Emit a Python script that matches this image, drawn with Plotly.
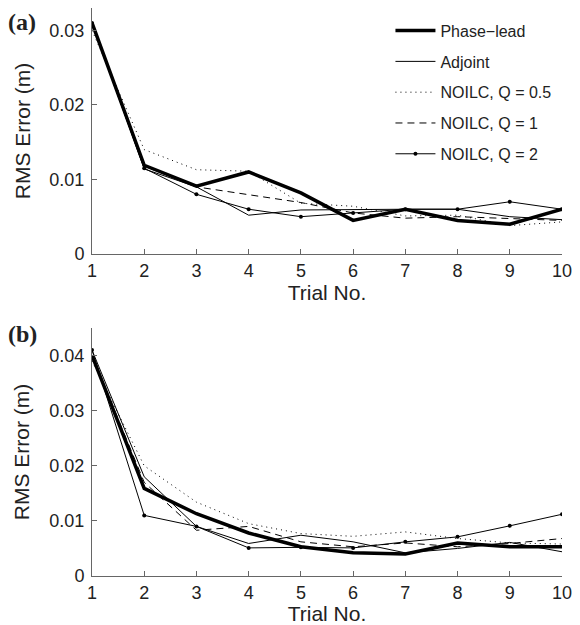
import plotly.graph_objects as go

trials = [1, 2, 3, 4, 5, 6, 7, 8, 9, 10]

# Panel (a)
a_phase_lead = [0.031, 0.0119, 0.0091, 0.0110, 0.0082, 0.0045, 0.0060, 0.0045, 0.0040, 0.0060]
a_adjoint    = [0.031, 0.0114, 0.0090, 0.0052, 0.0059, 0.0060, 0.0060, 0.0060, 0.0050, 0.0046]
a_q05        = [0.030, 0.0140, 0.0113, 0.0111, 0.0068, 0.0064, 0.0051, 0.0052, 0.0038, 0.0043]
a_q1         = [0.031, 0.0118, 0.0090, 0.0080, 0.0069, 0.0055, 0.0048, 0.0050, 0.0047, 0.0045]
a_q2         = [0.031, 0.0115, 0.0080, 0.0060, 0.0050, 0.0055, 0.0060, 0.0060, 0.0070, 0.0060]

# Panel (b)
b_phase_lead = [0.040, 0.0159, 0.0113, 0.0078, 0.0053, 0.0042, 0.0040, 0.0060, 0.0053, 0.0053]
b_adjoint    = [0.041, 0.0180, 0.0090, 0.0059, 0.0074, 0.0062, 0.0042, 0.0050, 0.0061, 0.0044]
b_q05        = [0.039, 0.0200, 0.0134, 0.0095, 0.0077, 0.0072, 0.0080, 0.0068, 0.0060, 0.0058]
b_q1         = [0.040, 0.0170, 0.0083, 0.0090, 0.0062, 0.0053, 0.0060, 0.0053, 0.0059, 0.0068]
b_q2         = [0.041, 0.0110, 0.0090, 0.0051, 0.0052, 0.0051, 0.0062, 0.0071, 0.0091, 0.0112]

names = ["Phase\u2212lead", "Adjoint", "NOILC, Q = 0.5", "NOILC, Q = 1", "NOILC, Q = 2"]
styles = [
    dict(width=3.5, dash="solid"),
    dict(width=1, dash="solid"),
    dict(width=1, dash="1px,4px"),
    dict(width=1, dash="7px,5px"),
    dict(width=1, dash="solid"),
]

a_y_ticks = [0, 0.01, 0.02, 0.03]
b_y_ticks = [0, 0.01, 0.02, 0.03, 0.04]
a_y_ticktext = ["0", "0.01", "0.02", "0.03"]
b_y_ticktext = ["0", "0.01", "0.02", "0.03", "0.04"]

fig = go.Figure()
series_a = [a_phase_lead, a_adjoint, a_q05, a_q1, a_q2]
series_b = [b_phase_lead, b_adjoint, b_q05, b_q1, b_q2]

for i, (nm, st) in enumerate(zip(names, styles)):
    mode = "lines+markers" if i == 4 else "lines"
    mk = dict(size=4, color="black") if i == 4 else None
    fig.add_trace(go.Scatter(x=trials, y=series_a[i], name=nm, mode=mode,
                             line=dict(color="black", **st), marker=mk,
                             legendgroup=f"g{i}", showlegend=True,
                             xaxis="x", yaxis="y"))
for i, (nm, st) in enumerate(zip(names, styles)):
    mode = "lines+markers" if i == 4 else "lines"
    mk = dict(size=4, color="black") if i == 4 else None
    fig.add_trace(go.Scatter(x=trials, y=series_b[i], name=nm, mode=mode,
                             line=dict(color="black", **st), marker=mk,
                             legendgroup=f"g{i}", showlegend=False,
                             xaxis="x2", yaxis="y2"))

axis_font = dict(family="Liberation Sans, Arial, sans-serif", size=18, color="#222")
title_font = dict(family="Liberation Sans, Arial, sans-serif", size=21, color="#222")

common_x = dict(range=[1, 10], tickvals=trials, ticks="inside", ticklen=5,
                showline=True, linecolor="#666", linewidth=1, tickcolor="#666",
                showgrid=False, zeroline=False, tickfont=axis_font,
                title=dict(text="Trial No.", font=title_font, standoff=0))
common_y = dict(ticks="inside", ticklen=5, showline=True, linecolor="#666",
                linewidth=1, tickcolor="#666", showgrid=False, zeroline=False,
                tickfont=axis_font, ticklabelstandoff=3,
                title=dict(text="RMS Error (m)", font=title_font, standoff=13))

fig.update_layout(
    width=580, height=625,
    margin=dict(l=92, r=16, t=8, b=49),
    plot_bgcolor="white", paper_bgcolor="white",
    xaxis=dict(domain=[0, 1], anchor="y", **common_x),
    yaxis=dict(domain=[0.567, 1], anchor="x", range=[0, 0.033],
               tickvals=a_y_ticks, ticktext=a_y_ticktext, **common_y),
    xaxis2=dict(domain=[0, 1], anchor="y2", **common_x),
    yaxis2=dict(domain=[0, 0.4366], anchor="x2", range=[0, 0.045],
                tickvals=b_y_ticks, ticktext=b_y_ticktext, **common_y),
    legend=dict(x=0.635, y=0.99, xanchor="left", yanchor="top",
                font=dict(family="Liberation Sans, Arial, sans-serif", size=16, color="#222"),
                bgcolor="rgba(0,0,0,0)", tracegroupgap=7, itemwidth=40),
    annotations=[
        dict(text="<b>(a)</b>", xref="paper", yref="paper", x=-0.182, y=1.002,
             xanchor="left", yanchor="top", showarrow=False,
             font=dict(family="Liberation Serif, Times New Roman, serif", size=24, color="#222")),
        dict(text="<b>(b)</b>", xref="paper", yref="paper", x=-0.182, y=0.452,
             xanchor="left", yanchor="top", showarrow=False,
             font=dict(family="Liberation Serif, Times New Roman, serif", size=24, color="#222")),
    ],
)

fig.write_html("out.html")
